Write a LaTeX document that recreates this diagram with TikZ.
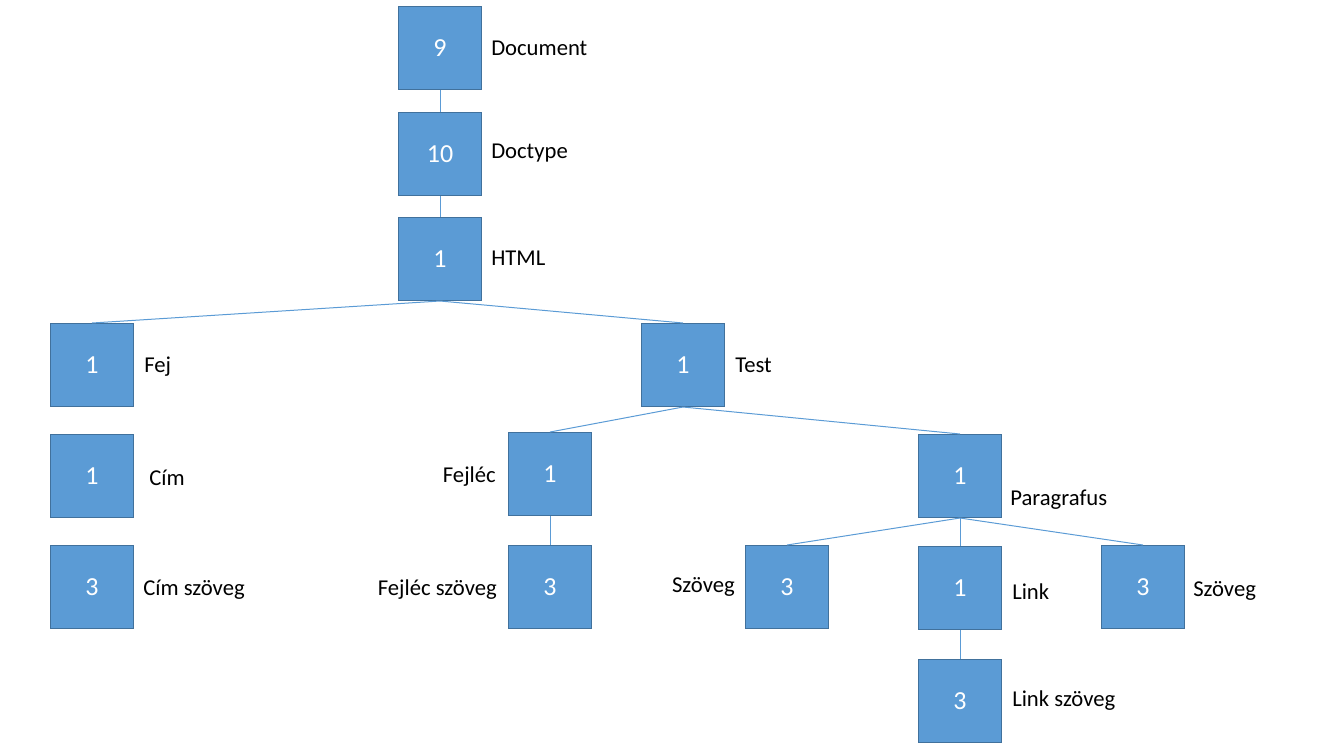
\documentclass[tikz,border=0pt]{standalone}
\usepackage{fontspec}
\setmainfont{Carlito}
\usepackage{tikz}
\definecolor{boxfill}{HTML}{5B9BD5}
\definecolor{boxline}{HTML}{41719C}
\begin{document}
\begin{tikzpicture}[
	x=0.75pt, y=-0.75pt,
	elem/.style={
		rectangle,
		draw=boxline,
		line width=0.75pt,
		fill=boxfill,
		minimum size=62.25pt,
		inner sep=0pt,
		text=white,
		font=\fontsize{19.5}{22}\selectfont
		},
	lbl/.style={
		inner sep=0pt,
		font=\fontsize{17}{20}\selectfont
	},
	edge/.style={
		draw=boxfill,
		line width=0.75pt
	}
]
\useasboundingbox (0,0) rectangle (1342,751);

% Elements
\node [elem] (Document) at (440,48) {9};
\node [elem] (Doctype) at (440,154) {10};
\node [elem] (HTML) at (440,259) {1};
\node [elem] (Fej) at (92,365) {1};
\node [elem] (Cim) at (92,476) {1};
\node [elem] (CimSzoveg) at (92,587) {3};
\node [elem] (Test) at (683,365) {1};
\node [elem] (Fejlec) at (550,474) {1};
\node [elem] (FejlecSzoveg) at (550,587) {3};
\node [elem] (Paragrafus) at (960,476) {1};
\node [elem] (SzovegA) at (787,587) {3};
\node [elem] (Link) at (960,588) {1};
\node [elem] (SzovegB) at (1143,587) {3};
\node [elem] (LinkSzoveg) at (960,701) {3};

% Labels
\node [lbl, anchor=west] (lDocument) at (491,48) {Document};
\node [lbl, anchor=west] (lDoctype) at (491,153) {Doctype};
\node [lbl, anchor=west] (lHTML) at (491,258) {HTML};
\node [lbl, anchor=west] (lFej) at (144,367) {Fej};
\node [lbl, anchor=west] (lCim) at (149,478) {Cím};
\node [lbl, anchor=west] (lCimSzoveg) at (143,590) {Cím szöveg};
\node [lbl, anchor=west] (lTest) at (735,365) {Test};
\node [lbl, anchor=east] (lFejlec) at (496,477) {Fejléc};
\node [lbl, anchor=east] (lFejlecSzoveg) at (497,590) {Fejléc szöveg};
\node [lbl, anchor=west] (lParagrafus) at (1010,500) {Paragrafus};
\node [lbl, anchor=east] (lSzovegA) at (735,587) {Szöveg};
\node [lbl, anchor=west] (lLink) at (1012,592) {Link};
\node [lbl, anchor=west] (lSzovegB) at (1193,591) {Szöveg};
\node [lbl, anchor=west] (lLinkSzoveg) at (1012,701) {Link szöveg};

% Connectors
\draw [edge] (Document.south) -- (Doctype.north);
\draw [edge] (Doctype.south) -- (HTML.north);
\draw [edge] (HTML.south) -- (Fej.north);
\draw [edge] (HTML.south) -- (Test.north);
\draw [edge] (Test.south) -- (Fejlec.north);
\draw [edge] (Test.south) -- (Paragrafus.north);
\draw [edge] (Fejlec.south) -- (FejlecSzoveg.north);
\draw [edge] (Paragrafus.south) -- (SzovegA.north);
\draw [edge] (Paragrafus.south) -- (Link.north);
\draw [edge] (Paragrafus.south) -- (SzovegB.north);
\draw [edge] (Link.south) -- (LinkSzoveg.north);
\end{tikzpicture}
\end{document}
